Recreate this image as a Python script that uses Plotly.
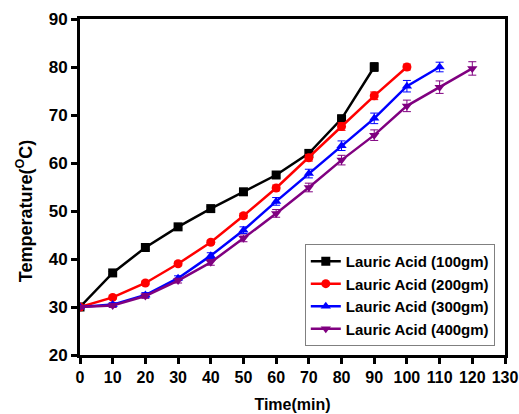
import plotly.graph_objects as go

time_100 = [0, 10, 20, 30, 40, 50, 60, 70, 80, 90]
temp_100 = [30, 37.1, 42.4, 46.7, 50.5, 54.0, 57.5, 62.0, 69.2, 80.0]
err_100 = [0.3, 0.3, 0.4, 0.4, 0.4, 0.4, 0.5, 0.7, 0.8, 0.9]

time_200 = [0, 10, 20, 30, 40, 50, 60, 70, 80, 90, 100]
temp_200 = [30, 32.0, 35.0, 39.0, 43.5, 49.0, 54.8, 61.1, 67.6, 74.0, 80.0]
err_200 = [0.3, 0.3, 0.4, 0.4, 0.4, 0.5, 0.6, 0.7, 0.8, 0.8, 0.6]

time_300 = [0, 10, 20, 30, 40, 50, 60, 70, 80, 90, 100, 110]
temp_300 = [30, 30.5, 32.5, 36.0, 40.7, 46.0, 52.0, 57.8, 63.6, 69.3, 76.0, 80.0]
err_300 = [0.3, 0.4, 0.5, 0.5, 0.6, 0.7, 0.8, 0.9, 1.0, 1.1, 1.2, 1.0]

time_400 = [0, 10, 20, 30, 40, 50, 60, 70, 80, 90, 100, 110, 120]
temp_400 = [30, 30.3, 32.3, 35.5, 39.3, 44.3, 49.5, 54.9, 60.6, 65.8, 71.9, 75.8, 79.7]
err_400 = [0.3, 0.4, 0.5, 0.5, 0.6, 0.7, 0.8, 0.9, 1.0, 1.1, 1.2, 1.3, 1.4]

series = [
    ("Lauric Acid (100gm)", time_100, temp_100, err_100, "#000000", "square"),
    ("Lauric Acid (200gm)", time_200, temp_200, err_200, "#ff0000", "circle"),
    ("Lauric Acid (300gm)", time_300, temp_300, err_300, "#0000ff", "triangle-up"),
    ("Lauric Acid (400gm)", time_400, temp_400, err_400, "#800080", "triangle-down"),
]

fig = go.Figure()
for name, x, y, e, c, sym in series:
    fig.add_trace(go.Scatter(
        x=x, y=y, name=name, mode="lines+markers",
        line=dict(color=c, width=2.5),
        marker=dict(symbol=sym, size=9, color=c),
        error_y=dict(type="data", array=e, visible=True, color=c, thickness=1, width=4),
    ))

ff = "Arial, Liberation Sans"
fig.update_layout(
    width=519, height=414,
    margin=dict(l=80, r=14, t=19, b=59),
    paper_bgcolor="white", plot_bgcolor="white",
    font=dict(family=ff, color="black"),
    showlegend=True,
    legend=dict(
        x=0.976, y=0.027, xanchor="right", yanchor="bottom",
        bordercolor="#808080", borderwidth=1, bgcolor="white",
        font=dict(family=ff, size=15, color="black", weight="bold"),
        tracegroupgap=0, itemwidth=30,
    ),
    xaxis=dict(
        range=[0, 130], dtick=10, tick0=0, automargin=False,
        showline=True, linewidth=3, linecolor="black", mirror=True,
        ticks="outside", ticklen=6, tickwidth=3, tickcolor="black",
        showgrid=False, zeroline=False,
        tickfont=dict(family=ff, size=16, color="black", weight="bold"),
        title=dict(text="<b>Time(min)</b>", font=dict(family=ff, size=16, color="black"), standoff=14),
    ),
    yaxis=dict(
        range=[20, 90], dtick=10, tick0=20, automargin=False,
        showline=True, linewidth=3, linecolor="black", mirror=True,
        ticks="outside", ticklen=6, tickwidth=3, tickcolor="black",
        showgrid=False, zeroline=False,
        tickfont=dict(family=ff, size=17, color="black", weight="bold"),
    ),
    annotations=[dict(
        text="<b>Temperature(<sup>O</sup>C)</b>", textangle=-90,
        xref="paper", yref="paper", x=-0.13, y=0.43,
        xanchor="center", yanchor="middle", showarrow=False,
        font=dict(family=ff, size=18, color="black"),
    )],
)

fig.write_html("out.html", post_script="document.body.style.margin='0';",
               config={"displayModeBar": False})
